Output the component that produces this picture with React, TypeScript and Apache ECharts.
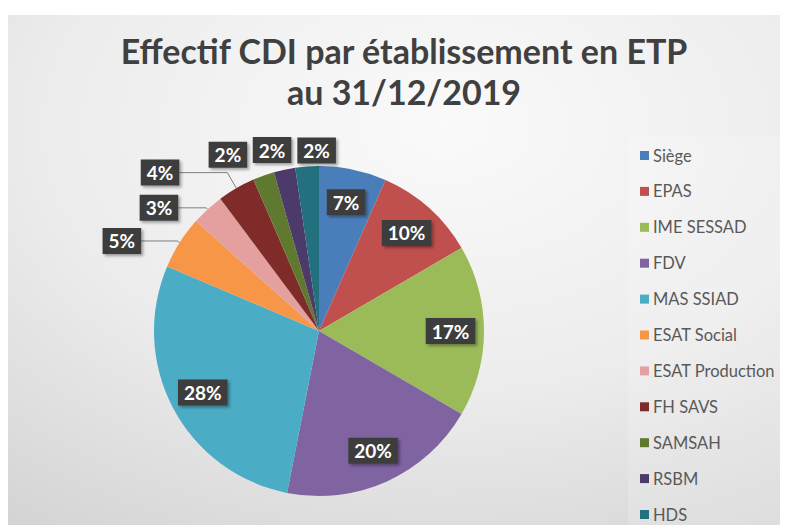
import React, { useEffect, useRef } from 'react';
import * as echarts from 'echarts';

const categories = ['Siège', 'EPAS', 'IME SESSAD', 'FDV', 'MAS SSIAD', 'ESAT Social', 'ESAT Production', 'FH SAVS', 'SAMSAH', 'RSBM', 'HDS'];
const values = [6.6, 10.0, 16.8, 19.7, 28.3, 5.2, 3.2, 3.7, 2.1, 2.1, 2.3];
const colors = ['#4A7EBB', '#C0504D', '#9BBB59', '#8064A2', '#4BACC6', '#F79646', '#E3A09F', '#7E2B29', '#5F7A2E', '#4B3A6A', '#23707F'];
const titleLines = ['Effectif CDI par établissement en ETP', 'au 31/12/2019'];

// label placement per slice (style only)
const labelPlacement = [
  { inside: true }, { inside: true }, { inside: true }, { inside: true }, { inside: true },
  { inside: false, len: 3, len2: 36, dist: 0, line: true },
  { inside: false, len: 2, len2: 28, dist: 0, line: true },
  { inside: false, len: 18, len2: 48, dist: 0, line: true },
  { inside: false, len: 22, len2: 4, dist: 5, line: false },
  { inside: false, len: 20, len2: 1, dist: -12, line: false },
  { inside: false, len: 16, len2: 1, dist: -31, line: false },
];

export default function App() {
  const ref = useRef<HTMLDivElement>(null);
  useEffect(() => {
    const chart = echarts.init(ref.current!, null, { renderer: 'svg' });
    const font = 'Lato, "Noto Sans", sans-serif';
    const cx = 311, cy = 323, R = 165;
    const labelBox = {
      color: '#ffffff',
      fontFamily: font,
      fontWeight: 'bold',
      fontSize: 19,
      lineHeight: 19,
      backgroundColor: '#3d3d3d',
      padding: [4, 6, 3, 6],
      shadowBlur: 3,
      shadowOffsetX: 2,
      shadowOffsetY: 2,
      shadowColor: 'rgba(0,0,0,0.35)',
      formatter: (p: any) => Math.round(p.percent) + '%',
    };
    const baseData = categories.map((name, i) => ({ name, value: values[i], itemStyle: { color: colors[i] } }));
    const labelData = categories.map((name, i) => {
      const pl = labelPlacement[i];
      return {
        name,
        value: values[i],
        itemStyle: { color: 'rgba(0,0,0,0)' },
        label: pl.inside
          ? { show: true, position: 'inside' }
          : { show: true, position: 'outside', distanceToLabelLine: pl.dist },
        labelLine: pl.inside
          ? { show: false }
          : { show: pl.line, length: pl.len, length2: pl.len2 },
      };
    });
    const option: any = {
      animation: false,
      graphic: [
        {
          type: 'rect',
          z: -10,
          silent: true,
          shape: { x: 0, y: 7, width: 780, height: 510 },
          style: {
            fill: {
              type: 'radial', x: 0.56, y: 0.22, r: 1.15,
              colorStops: [
                { offset: 0, color: '#fafafa' },
                { offset: 0.45, color: '#ececec' },
                { offset: 1, color: '#c9c9c9' },
              ],
            },
          },
        },
        {
          type: 'rect',
          z: -9,
          silent: true,
          shape: { x: 620, y: 129, width: 160, height: 388 },
          style: { fill: 'rgba(255,255,255,0.16)' },
        },
        {
          type: 'text',
          x: 396,
          y: 22,
          style: {
            text: titleLines.join('\n'),
            fill: '#404040',
            font: 'bold 34px ' + font,
            lineHeight: 41,
            align: 'center',
            verticalAlign: 'top',
          },
        },
      ],
      legend: {
        data: categories,
        orient: 'vertical',
        left: 632,
        top: 139,
        padding: 0,
        itemGap: 18.9,
        itemWidth: 9,
        itemHeight: 9,
        icon: 'rect',
        textStyle: { fontSize: 16.5, color: '#595959', fontFamily: font, lineHeight: 16, padding: [0, 0, 0, -1] },
      },
      series: [
        {
          type: 'pie',
          center: [cx, cy],
          radius: R,
          startAngle: 90,
          clockwise: true,
          label: { show: false },
          labelLine: { show: false },
          data: baseData,
          emphasis: { disabled: true },
        },
        {
          type: 'pie',
          center: [cx, cy],
          radius: [92, R],
          startAngle: 90,
          clockwise: true,
          silent: true,
          avoidLabelOverlap: false,
          label: labelBox,
          labelLine: { lineStyle: { color: '#7f7f7f', width: 1 }, smooth: false },
          data: labelData,
          emphasis: { disabled: true },
        },
      ],
    };
    chart.setOption(option);
    return () => chart.dispose();
  }, []);
  return <div ref={ref} style={{ width: 780, height: 517 }} />;
}
